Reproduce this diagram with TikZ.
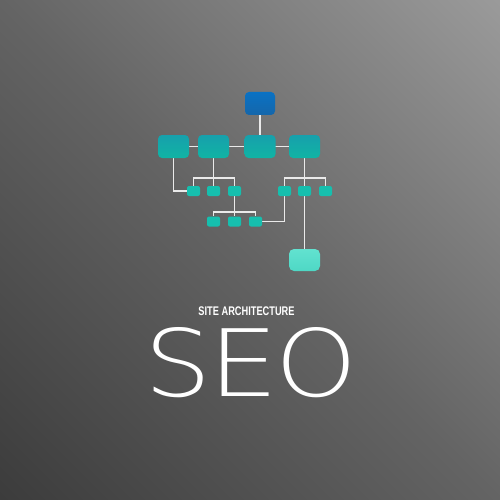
\documentclass[tikz,border=0pt]{standalone}
\usepackage{fontspec}
\newfontfamily\seofont{DejaVu Sans ExtraLight}
\newfontfamily\lsans{Liberation Sans}
\definecolor{bgA}{HTML}{3C3C3C}
\definecolor{bgM}{HTML}{646464}
\definecolor{bgB}{HTML}{9A9A9A}
\definecolor{topT}{HTML}{0A72C4}
\definecolor{topB}{HTML}{1566AA}
\definecolor{lvT}{HTML}{17A0AC}
\definecolor{lvB}{HTML}{10B4A4}
\definecolor{smC}{HTML}{16BFAE}
\definecolor{bigT}{HTML}{62E2D0}
\definecolor{bigB}{HTML}{4ED8C5}
\definecolor{wire}{HTML}{EAEAEA}
\pgfdeclarehorizontalshading{bgsh}{100bp}{color(0bp)=(bgA); color(14.6bp)=(bgA); color(50bp)=(bgM); color(85.4bp)=(bgB); color(100bp)=(bgB)}
\pgfdeclarelayer{back}
\pgfdeclarelayer{wires}
\pgfsetlayers{back,wires,main}
\tikzset{
  topbox/.style={rounded corners=4pt, minimum width=30pt, minimum height=23pt, inner sep=0pt, top color=topT, bottom color=topB},
  lvbox/.style={rounded corners=4pt, minimum width=31pt, minimum height=23pt, inner sep=0pt, top color=lvT, bottom color=lvB},
  smbox/.style={rounded corners=2pt, minimum width=13pt, minimum height=10pt, inner sep=0pt, fill=smC},
  bigbox/.style={rounded corners=5pt, minimum width=31pt, minimum height=22pt, inner sep=0pt, top color=bigT, bottom color=bigB},
  wireline/.style={draw=wire, line width=1.6pt},
  seoletter/.style={text=white, inner sep=0pt, anchor=base, font=\seofont\fontsize{93}{93}\selectfont}
}
\begin{document}
\begin{tikzpicture}[x=1pt,y=-1pt]
\begin{pgfonlayer}{back}
\shade[shading=bgsh, shading angle=45] (0,0) rectangle (500,500);
\end{pgfonlayer}
\useasboundingbox (0,0) rectangle (500,500);
% nodes
\node[topbox] (top) at (260,103.5) {};
\node[lvbox] (A) at (173.5,146.5) {};
\node[lvbox] (B) at (213.5,146.5) {};
\node[lvbox] (C) at (260,146.5) {};
\node[lvbox] (D) at (304.5,146.5) {};
\node[smbox] (a1) at (193.5,191) {};
\node[smbox] (a2) at (213.5,191) {};
\node[smbox] (a3) at (234.5,191) {};
\node[smbox] (d1) at (284.5,191) {};
\node[smbox] (d2) at (304.5,191) {};
\node[smbox] (d3) at (325.5,191) {};
\node[smbox] (b1) at (213.5,221.5) {};
\node[smbox] (b2) at (234.5,221.5) {};
\node[smbox] (b3) at (255.5,221.5) {};
\node[bigbox] (E) at (304.5,260) {};
\coordinate (bbar) at (213.5,178);
\coordinate (dbar) at (304.5,178);
\coordinate (cbar) at (234.5,212);
% connectors
\begin{pgfonlayer}{wires}
\draw[wireline] (top) -- (C);
\draw[wireline] (A) -- (D);
\draw[wireline] (A.center) |- (a1.west);
\draw[wireline] (B) -- (a2);
\draw[wireline] (a1.north) |- (bbar) -| (a3.north);
\draw[wireline] (D) -- (E);
\draw[wireline] (d1.north) |- (dbar) -| (d3.north);
\draw[wireline] (a3) -- (b2);
\draw[wireline] (b1.north) |- (cbar) -| (b3.north);
\draw[wireline] (b3.east) -| (d1.south);
\end{pgfonlayer}
% texts
\node[text=white, inner sep=0pt] (sub) at (246.5,311) {\scalebox{0.74}[1]{\lsans\bfseries\fontsize{12.5}{12.5}\selectfont SITE ARCHITECTURE}};
\node[seoletter] (seoS) at (178,396) {\scalebox{1.14}[1]{S}};
\node[seoletter] (seoE) at (243.5,396) {\scalebox{1.2}[1]{E}};
\node[seoletter] (seoO) at (316.5,396) {\scalebox{1.12}[1]{O}};
\end{tikzpicture}
\end{document}
